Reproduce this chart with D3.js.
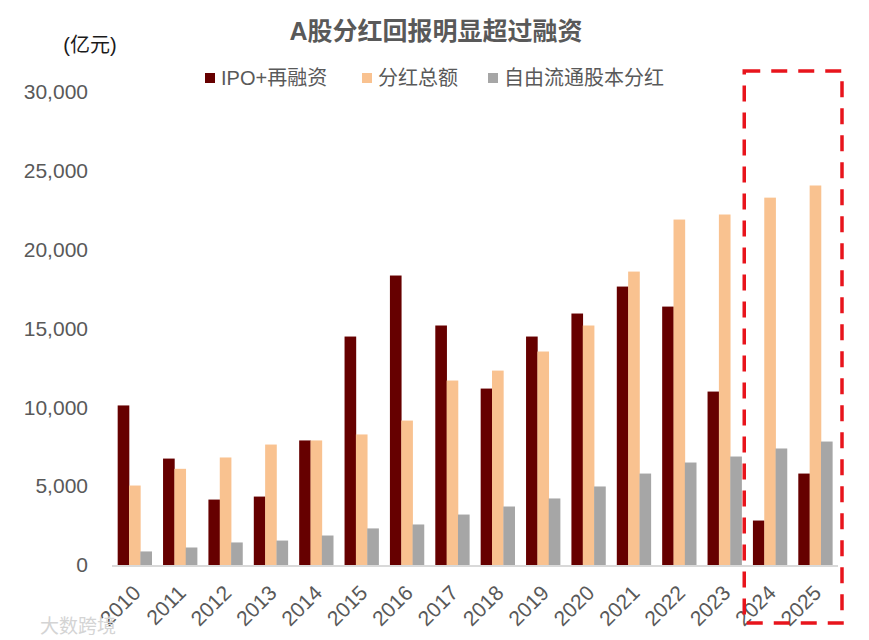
<!DOCTYPE html>
<html>
<head>
<meta charset="utf-8">
<script src="https://cdn.jsdelivr.net/npm/d3@7"></script>
<style>
  body { margin: 0; background: #fff; }
  text { font-family: Arial, "Liberation Sans", "Noto Sans CJK SC", sans-serif; }
</style>
</head>
<body>
<div id="vis"></div>
<script>
// data (亿元)
const years = ["2010", "2011", "2012", "2013", "2014", "2015", "2016", "2017",
    "2018", "2019", "2020", "2021", "2022", "2023", "2024", "2025"];
const ipoRefinance = [10120, 6750, 4150, 4340, 7900, 14490, 18360, 15190,
    11190, 14490, 15950, 17660, 16390, 11000, 2820, 5800];
const dividendTotal = [5040, 6100, 6820, 7640, 7900, 8280, 9160, 11700,
    12330, 13540, 15190, 18610, 21910, 22230, 23300, 24070];
const freeFloatDividend = [860, 1110, 1430, 1550, 1870, 2320, 2570, 3200,
    3710, 4220, 4980, 5800, 6500, 6880, 7390, 7830];
const seriesNames = ["IPO+再融资", "分红总额", "自由流通股本分红"];
const seriesColors = ["#660000", "#f9c290", "#a6a6a6"];
const yTicks = [0, 5000, 10000, 15000, 20000, 25000, 30000];
const highlightYears = ["2024", "2025"];

const width = 869, height = 640;
const svg = d3.select("#vis")
    .append("svg")
    .attr("width", width)
    .attr("height", height);

const textColor = "#595959";

const x = d3.scaleBand()
    .domain(years)
    .range([112, 838])
    .paddingInner(0.25)
    .paddingOuter(0.125);

const x1 = d3.scaleBand()
    .domain(d3.range(3))
    .range([0, x.bandwidth()]);

const y = d3.scaleLinear()
    .domain([0, 30000])
    .range([565, 92]);

// title
svg.append("text")
    .attr("x", 436)
    .attr("y", 40)
    .attr("text-anchor", "middle")
    .attr("font-size", 25)
    .attr("font-weight", "bold")
    .attr("fill", textColor)
    .text("A股分红回报明显超过融资");

// unit
svg.append("text")
    .attr("x", 90)
    .attr("y", 52)
    .attr("text-anchor", "middle")
    .attr("font-size", 20)
    .attr("fill", "#1a1a1a")
    .text("(亿元)");

// y axis (labels only)
const yAxis = svg.append("g")
    .attr("transform", "translate(88,0)")
    .call(d3.axisLeft(y).tickValues(yTicks).tickSize(0).tickPadding(0)
        .tickFormat(d3.format(",")));
yAxis.select(".domain").remove();
yAxis.selectAll("text")
    .attr("font-size", 21)
    .attr("fill", textColor)
    .attr("font-family", null);

// bars
const rows = years.map((yr, i) => ({
    year: yr,
    values: [ipoRefinance[i], dividendTotal[i], freeFloatDividend[i]]
}));

const groups = svg.append("g")
    .selectAll("g")
    .data(rows)
    .enter()
    .append("g")
    .attr("transform", d => `translate(${x(d.year)},0)`);

groups.selectAll("rect")
    .data(d => d.values.map((v, k) => ({ k: k, v: v })))
    .enter()
    .append("rect")
    .attr("x", d => x1(d.k))
    .attr("width", x1.bandwidth() + 0.3)
    .attr("y", d => y(d.v))
    .attr("height", d => y(0) - y(d.v))
    .attr("fill", d => seriesColors[d.k]);

// baseline
svg.append("line")
    .attr("x1", 112)
    .attr("x2", 838)
    .attr("y1", y(0) + 1)
    .attr("y2", y(0) + 1)
    .attr("stroke", "#d9d9d9")
    .attr("stroke-width", 2);

// x labels
const xAxis = svg.append("g")
    .attr("transform", `translate(0,${y(0) + 2})`)
    .call(d3.axisBottom(x).tickSize(0).tickPadding(0));
xAxis.select(".domain").remove();
xAxis.selectAll("text")
    .attr("font-size", 21)
    .attr("fill", textColor)
    .attr("font-family", null)
    .attr("text-anchor", "end")
    .attr("dy", "0.35em")
    .attr("transform", "translate(2,22) rotate(-45)");

// legend
const legendX = [205, 362, 488];
const legend = svg.append("g");
seriesNames.forEach((name, k) => {
    legend.append("rect")
        .attr("x", legendX[k])
        .attr("y", 73)
        .attr("width", 10)
        .attr("height", 10)
        .attr("fill", seriesColors[k]);
    legend.append("text")
        .attr("x", legendX[k] + 16)
        .attr("y", 85)
        .attr("font-size", 20)
        .attr("fill", textColor)
        .text(name);
});

// dashed highlight box round the forecast years
const hx0 = x(highlightYears[0]) - (x.step() - x.bandwidth()) / 2 - 3;
const hx1 = x(highlightYears[1]) + x.bandwidth() + (x.step() - x.bandwidth()) / 2 + 4;
svg.append("rect")
    .attr("x", hx0)
    .attr("y", 71)
    .attr("width", hx1 - hx0)
    .attr("height", 552)
    .attr("fill", "none")
    .attr("stroke", "#e8141c")
    .attr("stroke-width", 3.5)
    .attr("stroke-dasharray", "16,11");

// watermark
svg.append("text")
    .attr("x", 40)
    .attr("y", 633)
    .attr("font-size", 19)
    .attr("fill", "#d4d4d4")
    .text("大数跨境");
</script>
</body>
</html>
